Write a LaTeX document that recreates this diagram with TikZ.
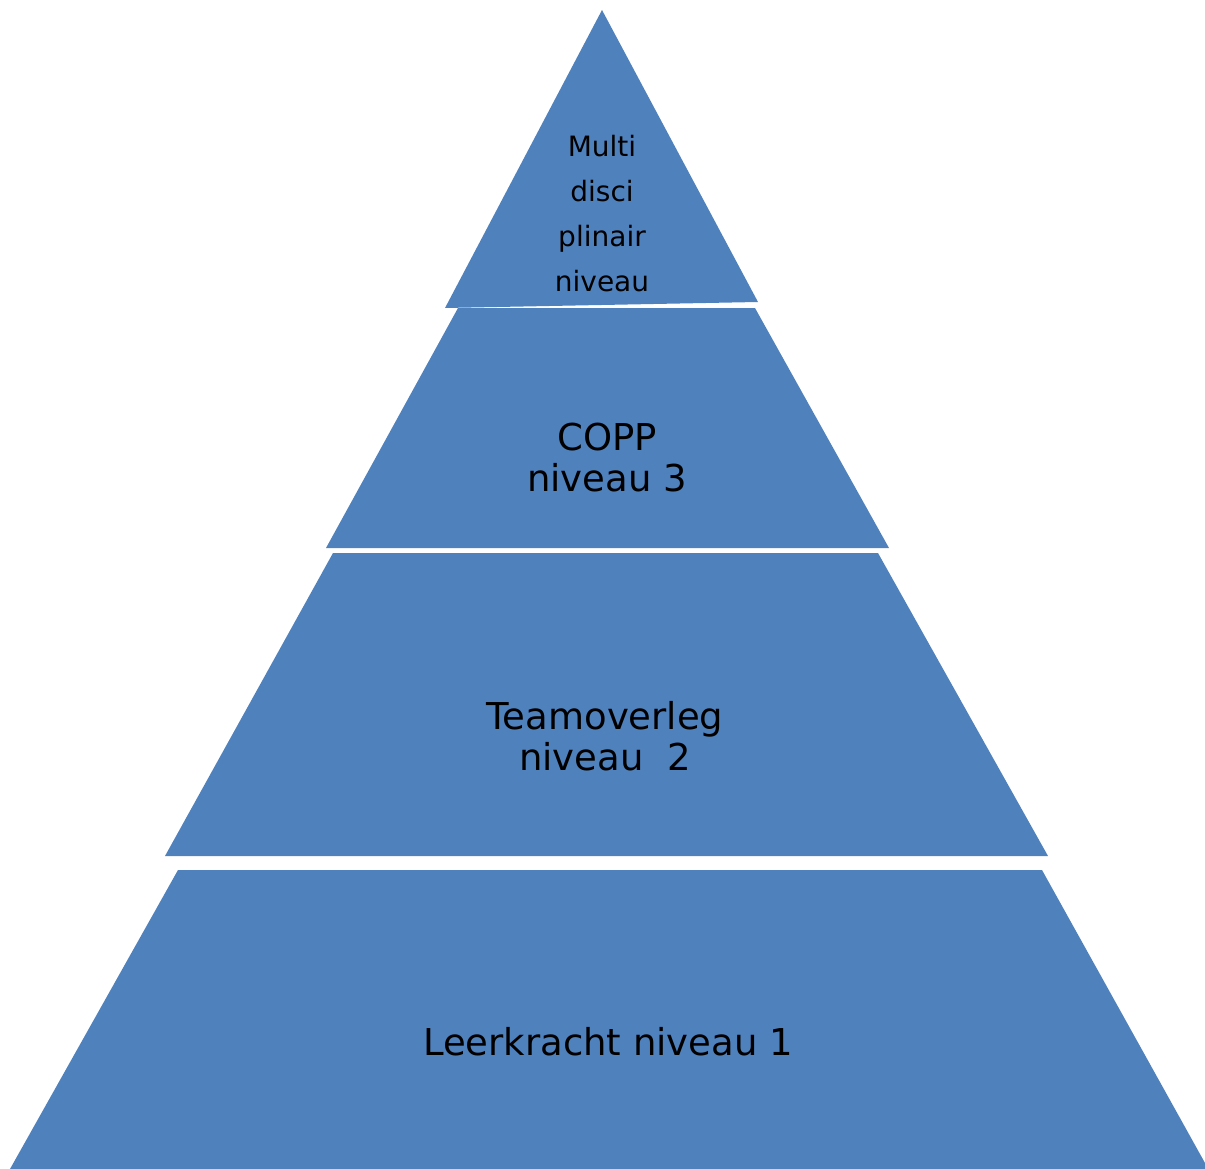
\documentclass[tikz,border=0pt]{standalone}
\usepackage{fontspec}
\setmainfont{DejaVu Sans}
\definecolor{pyr}{HTML}{4F81BD}
\begin{document}
\begin{tikzpicture}[x=1pt,y=-1pt,
  layer/.style={fill=pyr, draw=none},
  lbl/.style={align=center, text=black, inner sep=0pt},
  small/.style={lbl, font=\fontsize{28}{45}\selectfont},
  big/.style={lbl, font=\fontsize{37}{41}\selectfont}]
\useasboundingbox (0,0) rectangle (1205,1169);
% layers
\path[layer] (602,10) -- (758,302) -- (445,308) -- cycle;
\path[layer] (458,308) -- (755,308) -- (889,548) -- (326,548) -- cycle;
\path[layer] (333,553) -- (878,553) -- (1048,856) -- (165,856) -- cycle;
\path[layer] (178,870) -- (1042,870) -- (1205,1163) -- (1205,1169) -- (10,1169) -- cycle;
% labels
\node[small] (l4) at (602,214) {Multi\\disci\\plinair\\niveau};
\node[big] (l3) at (607,458) {COPP\\niveau 3};
\node[big] (l2) at (605,736) {Teamoverleg\\niveau\ \ 2};
\node[big] (l1) at (608,1042) {Leerkracht niveau 1};
\end{tikzpicture}
\end{document}
